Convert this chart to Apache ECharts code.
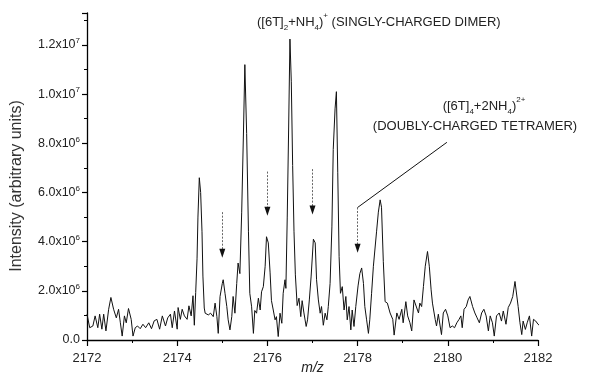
<!DOCTYPE html>
<html>
<head>
<meta charset="utf-8">
<script src="https://cdn.jsdelivr.net/npm/echarts@6/dist/echarts.min.js"></script>
<style>
html,body{margin:0;padding:0;background:#fff;}
#chart{width:600px;height:375px;}
</style>
</head>
<body>
<div id="chart"></div>
<script>
// m/z values and intensity (in units of 1e6, arbitrary units)
const mz = [
2172.00,2172.06,2172.13,2172.18,2172.24,2172.28,2172.33,2172.37,2172.42,2172.48,
2172.53,2172.59,2172.65,2172.70,2172.74,2172.78,2172.83,2172.87,2172.92,2172.98,
2173.02,2173.07,2173.12,2173.18,2173.24,2173.30,2173.37,2173.43,2173.49,2173.55,
2173.61,2173.67,2173.74,2173.79,2173.85,2173.89,2173.94,2174.00,2174.02,2174.07,
2174.11,2174.16,2174.22,2174.26,2174.31,2174.35,2174.38,2174.41,2174.44,2174.46,
2174.49,2174.52,2174.55,2174.57,2174.60,2174.62,2174.69,2174.74,2174.80,2174.84,
2174.88,2174.91,2174.95,2175.00,2175.02,2175.06,2175.10,2175.13,2175.17,2175.21,
2175.24,2175.28,2175.32,2175.35,2175.39,2175.43,2175.47,2175.50,2175.54,2175.58,
2175.61,2175.65,2175.69,2175.72,2175.76,2175.80,2175.84,2175.87,2175.91,2175.95,
2175.98,2176.02,2176.06,2176.09,2176.13,2176.17,2176.20,2176.24,2176.28,2176.32,
2176.35,2176.39,2176.41,2176.44,2176.47,2176.50,2176.53,2176.56,2176.59,2176.62,
2176.66,2176.70,2176.74,2176.77,2176.81,2176.86,2176.89,2176.93,2176.97,2177.02,
2177.06,2177.09,2177.13,2177.17,2177.20,2177.24,2177.28,2177.32,2177.35,2177.39,
2177.43,2177.46,2177.50,2177.53,2177.56,2177.59,2177.62,2177.66,2177.70,2177.74,
2177.77,2177.81,2177.85,2177.88,2177.92,2177.96,2178.01,2178.05,2178.09,2178.13,
2178.16,2178.20,2178.24,2178.27,2178.31,2178.35,2178.39,2178.42,2178.46,2178.50,
2178.53,2178.57,2178.61,2178.66,2178.72,2178.78,2178.81,2178.87,2178.92,2178.98,
2179.01,2179.07,2179.11,2179.16,2179.20,2179.25,2179.29,2179.35,2179.38,2179.42,
2179.46,2179.50,2179.55,2179.59,2179.63,2179.66,2179.72,2179.75,2179.79,2179.83,
2179.86,2179.90,2179.95,2180.00,2180.05,2180.10,2180.15,2180.20,2180.25,2180.29,
2180.32,2180.36,2180.41,2180.45,2180.49,2180.55,2180.60,2180.65,2180.70,2180.75,
2180.80,2180.85,2180.90,2180.94,2180.99,2181.03,2181.08,2181.14,2181.19,2181.23,
2181.29,2181.34,2181.39,2181.44,2181.49,2181.53,2181.56,2181.60,2181.64,2181.67,
2181.72,2181.76,2181.81,2181.86,2181.90,2181.95,2182.00,2182.05
];
const intensity = [
1.05,0.50,0.57,0.98,0.50,1.05,0.44,1.05,0.37,1.25,
1.73,1.25,0.90,1.25,0.70,0.16,0.98,0.70,1.28,0.84,
0.16,0.50,0.57,0.46,0.64,0.50,0.70,0.46,0.78,0.84,
0.44,0.98,0.57,0.90,1.05,0.50,1.18,0.44,1.32,0.84,
1.25,0.98,0.84,1.39,0.98,1.80,0.60,1.93,3.30,5.00,
6.60,6.00,4.40,2.60,1.30,1.09,1.02,1.09,0.95,1.50,
0.95,0.27,1.77,2.30,2.45,1.90,1.36,0.82,0.41,0.95,
1.77,1.09,2.30,3.13,2.70,5.20,8.50,11.20,8.40,4.40,
1.90,1.35,0.27,1.20,1.09,1.70,1.22,1.96,2.17,3.00,
4.20,3.95,2.73,1.60,1.22,0.82,0.95,0.14,1.09,0.68,
1.90,2.45,2.10,5.00,8.50,12.24,10.50,7.10,4.40,2.65,
1.40,1.70,0.95,1.60,1.10,0.55,0.82,1.63,2.60,4.10,
3.95,2.45,1.63,1.09,1.36,0.60,1.09,0.82,1.36,2.30,
4.60,7.75,9.40,10.10,6.80,3.40,1.90,2.17,1.22,1.77,
0.82,1.36,0.41,1.22,0.55,1.36,2.20,2.70,2.93,2.30,
1.36,0.82,0.27,0.82,1.90,3.00,3.00,4.40,5.20,5.70,
5.40,3.20,1.56,1.50,1.10,0.84,0.20,1.10,0.84,1.25,
0.70,1.56,0.98,0.70,0.37,1.63,1.63,1.10,1.50,1.36,
2.18,3.00,3.60,3.00,2.04,1.50,0.84,0.57,1.05,0.57,
0.22,1.10,1.25,0.98,0.50,0.57,0.50,0.70,0.84,0.98,
0.50,1.25,1.36,1.63,1.77,1.36,1.10,0.90,0.70,1.10,
1.25,0.98,0.37,0.98,0.70,0.16,0.98,1.10,0.77,1.18,
0.64,1.32,1.50,1.77,2.38,2.38,1.36,0.70,0.22,0.77,
0.43,0.70,0.98,0.16,0.84,0.77,0.64,0.57
];
// Arrows marking the doubly-charged tetramer peaks: m/z, shaft start, arrow tip (intensity in 1e6)
const arrowMz = [2175, 2176, 2177, 2178];
const arrowStart = [5.2, 6.85, 6.95, 5.39];
const arrowTip = [3.35, 5.05, 5.1, 3.55];
// Leader line from the 2178 arrow to the tetramer label: [m/z, intensity]
const leaderFrom = [2178, 5.39];
const leaderTo = [2179.98, 8.04];

const FONT = "'Liberation Sans', Arial, Helvetica, sans-serif";
const chart = echarts.init(document.getElementById('chart'));

function yLabel(v) {
  if (v === 0) return '{m|0.0}';
  const real = v * 1e6;
  const exp = Math.floor(Math.log10(real) + 1e-9);
  const mant = (real / Math.pow(10, exp)).toFixed(1);
  return '{m|' + mant + 'x10}{s|' + exp + '}';
}

const shafts = arrowMz.map((m, i) => [{coord: [m, arrowStart[i]]}, {coord: [m, arrowTip[i] + 0.3]}]);
const heads = arrowMz.map((m, i) => ({coord: [m, arrowTip[i]]}));

const option = {
  backgroundColor: '#fff',
  animation: false,
  grid: {left: 87, right: 62, top: 13, bottom: 35, containLabel: false, outerBoundsMode: 'none'},
  xAxis: {
    type: 'value', min: 2172, max: 2182, interval: 2,
    name: 'm/z', nameLocation: 'middle', nameGap: 21, nameMoveOverlap: false,
    nameTextStyle: {fontFamily: FONT, fontSize: 14, fontStyle: 'italic', color: '#222'},
    axisLine: {lineStyle: {color: '#000', width: 1.3}},
    axisTick: {show: true, length: 6, lineStyle: {color: '#000', width: 1.2}},
    minorTick: {show: true, splitNumber: 2, length: 3, lineStyle: {color: '#000', width: 1}},
    splitLine: {show: false},
    axisLabel: {fontFamily: FONT, fontSize: 13, color: '#222', margin: 12, formatter: v => String(v)}
  },
  yAxis: {
    type: 'value', min: 0, max: 13.3, interval: 2,
    axisLine: {show: true, lineStyle: {color: '#000', width: 1.3}},
    axisTick: {show: true, length: 5, lineStyle: {color: '#000', width: 1.2}},
    minorTick: {show: true, splitNumber: 2, length: 3, lineStyle: {color: '#000', width: 1}},
    splitLine: {show: false},
    axisLabel: {
      showMaxLabel: false, margin: 7, formatter: yLabel,
      rich: {
        m: {fontFamily: FONT, fontSize: 12.5, color: '#222', lineHeight: 16},
        s: {fontFamily: FONT, fontSize: 8, color: '#222', lineHeight: 8, verticalAlign: 'top'}
      }
    }
  },
  series: [
    {
      type: 'line', data: mz.map((m, i) => [m, intensity[i]]),
      showSymbol: false, clip: false,
      lineStyle: {color: '#111', width: 1},
      markLine: {
        silent: true, symbol: ['none', 'none'],
        label: {show: false},
        lineStyle: {color: '#666', width: 1, type: [2, 1.5]},
        data: shafts.concat([[
          {coord: leaderFrom, lineStyle: {color: '#111', width: 1, type: 'solid'}},
          {coord: leaderTo}
        ]])
      }
    },
    {
      type: 'line', data: [],
      markPoint: {
        silent: true, symbol: 'triangle', symbolSize: [6, 9], symbolRotate: 180,
        symbolOffset: [0, -4.5],
        itemStyle: {color: '#111'},
        label: {show: false},
        data: heads
      }
    }
  ],
  graphic: [
    {
      type: 'text', x: 17, y: 186, rotation: Math.PI / 2,
      style: {
        text: 'Intensity (arbitrary units)',
        align: 'center', verticalAlign: 'middle',
        font: '16px ' + FONT, fill: '#333'
      }
    },
    {
      type: 'text', left: 257, top: 12,
      style: {
        text: '{a|([6T]}{b|2}{a|+NH}{b|4}{a|)}{c|+}{a| (SINGLY-CHARGED DIMER)}',
        rich: {
          a: {fontFamily: FONT, fontSize: 13, fill: '#222', lineHeight: 20},
          b: {fontFamily: FONT, fontSize: 8, fill: '#222', lineHeight: 11, verticalAlign: 'bottom'},
          c: {fontFamily: FONT, fontSize: 8, fill: '#222', lineHeight: 10, verticalAlign: 'top'}
        }
      }
    },
    {
      type: 'text', x: 484, y: 106,
      style: {
        text: '{a|([6T]}{b|4}{a|+2NH}{b|4}{a|)}{c|2+}',
        align: 'center', verticalAlign: 'middle',
        rich: {
          a: {fontFamily: FONT, fontSize: 13, fill: '#222', lineHeight: 20},
          b: {fontFamily: FONT, fontSize: 8, fill: '#222', lineHeight: 11, verticalAlign: 'bottom'},
          c: {fontFamily: FONT, fontSize: 8, fill: '#222', lineHeight: 10, verticalAlign: 'top'}
        }
      }
    },
    {
      type: 'text', x: 475, y: 126,
      style: {
        text: '(DOUBLY-CHARGED TETRAMER)',
        align: 'center', verticalAlign: 'middle',
        font: '13px ' + FONT, fill: '#222'
      }
    }
  ]
};
chart.setOption(option);
</script>
</body>
</html>
